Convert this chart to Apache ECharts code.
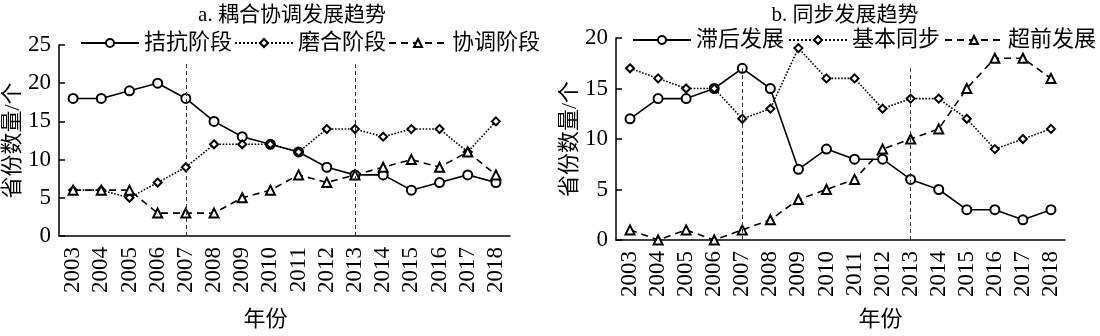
<!DOCTYPE html>
<html><head><meta charset="utf-8">
<script src="https://cdn.jsdelivr.net/npm/echarts@6/dist/echarts.min.js"></script>
<style>html,body{margin:0;padding:0;background:#fff}#c{width:1100px;height:336px}</style>
</head><body><div id="c"></div>
<script>
const years = ['2003','2004','2005','2006','2007','2008','2009','2010','2011','2012','2013','2014','2015','2016','2017','2018'];
// chart a
const jiekang = [18,18,19,20,18,15,13,12,11,9,8,8,6,7,8,7];
const mohe    = [6,6,5,7,9,12,12,12,11,14,14,13,14,14,11,15];
const xietiao = [6,6,6,3,3,3,5,6,8,7,8,9,10,9,11,8];
// chart b
const zhihou  = [12,14,14,15,17,15,7,9,8,8,6,5,3,3,2,3];
const jiben   = [17,16,15,15,12,13,19,16,16,13,14,14,12,9,10,11];
const chaoqian= [1,0,1,0,1,2,4,5,6,9,10,11,15,18,18,16];
const yTicksA = {max:25, interval:5};
const yTicksB = {max:20, interval:5};
const phaseYears = ['2007','2013'];

const FONT = "'Liberation Serif','Noto Sans CJK SC',serif";
const chart = echarts.init(document.getElementById('c'));

function xAx(gi, nameShift, nameGap){
  return {type:'category', gridIndex:gi, data:years, boundaryGap:true,
    name:'年份', nameLocation:'middle', nameGap:nameGap,
    nameTextStyle:{fontFamily:FONT, fontSize:22, color:'#000', padding:[0,0,0,nameShift]},
    axisLine:{lineStyle:{color:'#000', width:1.5}},
    axisTick:{inside:true, length:5, interval:0, lineStyle:{color:'#000', width:1.5}},
    axisLabel:{rotate:90, interval:0, hideOverlap:false, fontFamily:FONT, fontSize:23, color:'#000', margin:11},
    splitLine:{show:false}};
}
function yAx(gi, t, nameGap){
  return {type:'value', gridIndex:gi, min:0, max:t.max, interval:t.interval,
    name:'省份数量/个', nameLocation:'middle', nameGap:nameGap, nameRotate:90,
    nameTextStyle:{fontFamily:FONT, fontSize:22, color:'#000'},
    axisLine:{show:true, lineStyle:{color:'#000', width:1.5}},
    axisTick:{show:true, inside:true, length:6, lineStyle:{color:'#000', width:1.5}},
    axisLabel:{fontFamily:FONT, fontSize:23, color:'#000', margin:8},
    splitLine:{show:false}};
}
function ser(name, data, gi, lineType, symbol, size, mark){
  const s = {name, type:'line', xAxisIndex:gi, yAxisIndex:gi, data,
    symbol, symbolSize:size, showSymbol:true,
    lineStyle:{color:'#000', width:1.6, type:lineType},
    itemStyle:{color:'#000', borderColor:'#000', borderWidth:1.6},
    emphasis:{disabled:true}, animation:false};
  if (mark) {
    s.markLine = {silent:true, symbol:'none', label:{show:false},
      lineStyle:{color:'#333', width:1, type:[4,3]},
      data: phaseYears.map(y => [{coord:[y,0]},{coord:[y,mark]}])};
  }
  return s;
}
const lstyle = {fontFamily:FONT, fontSize:22, color:'#000'};
chart.setOption({
  animation:false,
  title:[
    {text:'a. 耦合协调发展趋势', left:287, top:0, textAlign:'center', textStyle:{fontFamily:FONT, fontSize:21, fontWeight:'normal', color:'#000'}},
    {text:'b. 同步发展趋势', left:840, top:0, textAlign:'center', textStyle:{fontFamily:FONT, fontSize:21, fontWeight:'normal', color:'#000'}}
  ],
  legend:[
    {data:['拮抗阶段','磨合阶段','协调阶段'], left:80, top:32, padding:0, itemWidth:58, itemHeight:10, itemGap:2, textStyle:lstyle},
    {data:['滞后发展','基本同步','超前发展'], left:632, top:29, padding:0, itemWidth:58, itemHeight:10, itemGap:4, textStyle:lstyle}
  ],
  grid:[
    {left:59, right:590, top:45, bottom:91, containLabel:false},
    {left:616, right:35, top:38, bottom:86, containLabel:false}
  ],
  xAxis:[xAx(0,-38,73), xAx(1,80,69)],
  yAxis:[yAx(0,yTicksA,32), yAx(1,yTicksB,28)],
  series:[
    ser('拮抗阶段', jiekang, 0, 'solid', 'emptyCircle', 9, 22.5),
    ser('磨合阶段', mohe, 0, 'dotted', 'emptyDiamond', 8),
    ser('协调阶段', xietiao, 0, [7,5], 'emptyTriangle', 9),
    ser('滞后发展', zhihou, 1, 'solid', 'emptyCircle', 9, 17),
    ser('基本同步', jiben, 1, 'dotted', 'emptyDiamond', 8),
    ser('超前发展', chaoqian, 1, [7,5], 'emptyTriangle', 9)
  ]
});
</script></body></html>
